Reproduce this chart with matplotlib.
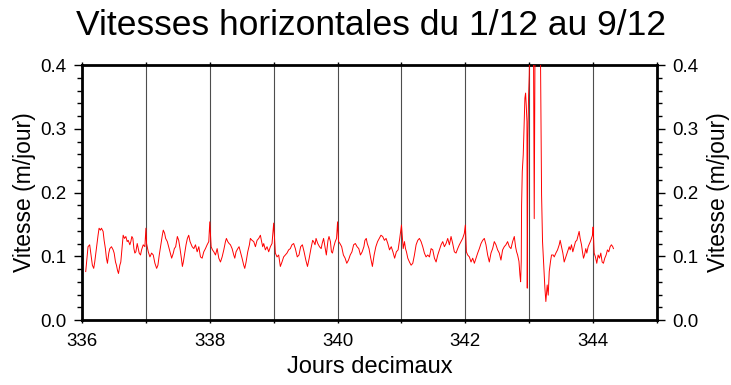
import matplotlib
matplotlib.use("Agg")
import matplotlib.pyplot as plt
from matplotlib.ticker import MultipleLocator, FormatStrFormatter

plt.rcParams["font.family"] = ["Liberation Sans", "DejaVu Sans"]

# ── Séries (jour décimal, vitesse horizontale en m/jour) ─────────────────
jours = [
    336.058, 336.094, 336.120, 336.147, 336.162, 336.183, 336.199, 336.225,
    336.251, 336.267, 336.288, 336.304, 336.330, 336.346, 336.366, 336.382,
    336.398, 336.419, 336.435, 336.461, 336.487, 336.503, 336.524, 336.539,
    336.555, 336.571, 336.592, 336.607, 336.628, 336.644, 336.665, 336.686,
    336.707, 336.723, 336.749, 336.764, 336.780, 336.796, 336.812, 336.827,
    336.843, 336.864, 336.880, 336.895, 336.916, 336.932, 336.958, 336.984,
    337.000, 337.010, 337.037, 337.063, 337.089, 337.115, 337.141, 337.168,
    337.188, 337.209, 337.236, 337.257, 337.272, 337.293, 337.309, 337.335,
    337.356, 337.377, 337.403, 337.429, 337.445, 337.466, 337.492, 337.513,
    337.534, 337.555, 337.571, 337.586, 337.607, 337.628, 337.649, 337.670,
    337.691, 337.724, 337.750, 337.776, 337.802, 337.828, 337.854, 337.880,
    337.906, 337.932, 337.958, 337.984, 338.000, 338.021, 338.042, 338.063,
    338.089, 338.115, 338.141, 338.167, 338.193, 338.219, 338.245, 338.260,
    338.281, 338.302, 338.323, 338.349, 338.375, 338.391, 338.411, 338.438,
    338.458, 338.479, 338.505, 338.531, 338.547, 338.568, 338.594, 338.620,
    338.635, 338.661, 338.688, 338.714, 338.740, 338.766, 338.792, 338.807,
    338.828, 338.844, 338.870, 338.896, 338.922, 338.948, 338.974, 339.000,
    339.026, 339.052, 339.078, 339.104, 339.130, 339.156, 339.182, 339.208,
    339.234, 339.260, 339.286, 339.313, 339.339, 339.369, 339.396, 339.422,
    339.449, 339.476, 339.503, 339.529, 339.556, 339.583, 339.610, 339.626,
    339.647, 339.663, 339.690, 339.717, 339.743, 339.759, 339.781, 339.797,
    339.824, 339.850, 339.866, 339.888, 339.904, 339.920, 339.941, 339.963,
    339.984, 340.000, 340.016, 340.037, 340.064, 340.091, 340.118, 340.144,
    340.171, 340.198, 340.225, 340.251, 340.278, 340.305, 340.332, 340.358,
    340.385, 340.412, 340.428, 340.449, 340.465, 340.492, 340.519, 340.545,
    340.572, 340.599, 340.626, 340.652, 340.679, 340.706, 340.733, 340.759,
    340.786, 340.813, 340.840, 340.866, 340.893, 340.920, 340.947, 340.973,
    341.000, 341.027, 341.047, 341.063, 341.078, 341.099, 341.125, 341.151,
    341.177, 341.203, 341.229, 341.255, 341.281, 341.307, 341.333, 341.359,
    341.385, 341.411, 341.438, 341.464, 341.490, 341.516, 341.542, 341.568,
    341.594, 341.620, 341.646, 341.672, 341.698, 341.724, 341.750, 341.776,
    341.802, 341.828, 341.854, 341.880, 341.906, 341.932, 341.958, 341.984,
    342.000, 342.016, 342.036, 342.063, 342.089, 342.115, 342.141, 342.167,
    342.193, 342.219, 342.245, 342.271, 342.297, 342.323, 342.349, 342.375,
    342.401, 342.427, 342.453, 342.479, 342.505, 342.531, 342.557, 342.583,
    342.609, 342.635, 342.661, 342.688, 342.714, 342.740, 342.766, 342.786,
    342.802, 342.818, 342.839, 342.854, 342.865, 342.875, 342.880, 342.891,
    342.906, 342.922, 342.932, 342.943, 342.953, 342.964, 342.969, 342.979,
    342.990, 343.000, 343.010, 343.040, 343.068, 343.078, 343.089, 343.130,
    343.177, 343.193, 343.208, 343.229, 343.245, 343.260, 343.281, 343.297,
    343.313, 343.333, 343.349, 343.375, 343.391, 343.417, 343.443, 343.469,
    343.484, 343.505, 343.526, 343.547, 343.573, 343.599, 343.625, 343.641,
    343.661, 343.682, 343.703, 343.724, 343.745, 343.766, 343.781, 343.797,
    343.818, 343.833, 343.849, 343.865, 343.885, 343.901, 343.922, 343.943,
    343.964, 343.990, 344.000, 344.016, 344.036, 344.057, 344.078, 344.099,
    344.120, 344.141, 344.161, 344.182, 344.203, 344.224, 344.245, 344.266,
    344.286, 344.307, 344.318,
]

vitesse = [
    0.076, 0.115, 0.118, 0.097, 0.086, 0.081, 0.091, 0.112,
    0.133, 0.144, 0.141, 0.144, 0.139, 0.125, 0.112, 0.097,
    0.089, 0.105, 0.112, 0.115, 0.110, 0.105, 0.091, 0.086,
    0.078, 0.073, 0.086, 0.091, 0.115, 0.133, 0.128, 0.131,
    0.123, 0.125, 0.118, 0.123, 0.131, 0.128, 0.112, 0.105,
    0.107, 0.120, 0.112, 0.105, 0.102, 0.110, 0.118, 0.115,
    0.144, 0.120, 0.107, 0.099, 0.105, 0.102, 0.089, 0.081,
    0.086, 0.102, 0.120, 0.133, 0.141, 0.136, 0.128, 0.123,
    0.115, 0.107, 0.097, 0.105, 0.112, 0.115, 0.131, 0.125,
    0.112, 0.097, 0.084, 0.091, 0.105, 0.118, 0.128, 0.133,
    0.123, 0.115, 0.112, 0.118, 0.107, 0.115, 0.099, 0.097,
    0.107, 0.112, 0.118, 0.123, 0.154, 0.115, 0.110, 0.107,
    0.102, 0.112, 0.097, 0.091, 0.099, 0.110, 0.123, 0.128,
    0.123, 0.120, 0.118, 0.112, 0.102, 0.097, 0.107, 0.112,
    0.115, 0.107, 0.097, 0.086, 0.081, 0.091, 0.107, 0.118,
    0.128, 0.125, 0.123, 0.115, 0.125, 0.128, 0.133, 0.125,
    0.115, 0.120, 0.110, 0.115, 0.107, 0.115, 0.120, 0.152,
    0.105, 0.099, 0.102, 0.084, 0.091, 0.099, 0.102, 0.105,
    0.110, 0.112, 0.118, 0.120, 0.112, 0.099, 0.102, 0.115,
    0.118, 0.107, 0.094, 0.084, 0.097, 0.112, 0.125, 0.123,
    0.118, 0.128, 0.120, 0.115, 0.112, 0.120, 0.128, 0.118,
    0.102, 0.125, 0.131, 0.123, 0.107, 0.105, 0.115, 0.123,
    0.128, 0.154, 0.123, 0.120, 0.115, 0.102, 0.097, 0.089,
    0.094, 0.102, 0.107, 0.118, 0.120, 0.115, 0.112, 0.102,
    0.107, 0.115, 0.125, 0.128, 0.120, 0.112, 0.097, 0.084,
    0.102, 0.115, 0.123, 0.128, 0.133, 0.131, 0.125, 0.128,
    0.120, 0.110, 0.115, 0.107, 0.097, 0.107, 0.110, 0.128,
    0.149, 0.112, 0.123, 0.112, 0.107, 0.097, 0.091, 0.086,
    0.089, 0.102, 0.118, 0.125, 0.128, 0.123, 0.115, 0.105,
    0.099, 0.102, 0.099, 0.112, 0.110, 0.097, 0.091, 0.102,
    0.110, 0.118, 0.123, 0.115, 0.120, 0.128, 0.118, 0.131,
    0.120, 0.107, 0.105, 0.112, 0.118, 0.123, 0.128, 0.136,
    0.149, 0.107, 0.102, 0.099, 0.091, 0.097, 0.089, 0.097,
    0.105, 0.112, 0.120, 0.125, 0.128, 0.118, 0.102, 0.091,
    0.105, 0.112, 0.123, 0.118, 0.110, 0.105, 0.094, 0.110,
    0.115, 0.118, 0.123, 0.115, 0.112, 0.123, 0.131, 0.115,
    0.107, 0.102, 0.092, 0.071, 0.060, 0.092, 0.180, 0.233,
    0.259, 0.311, 0.348, 0.356, 0.337, 0.311, 0.050, 0.285,
    0.353, 0.384, 0.450, 0.600, 0.400, 0.159, 0.400, 0.600,
    0.400, 0.196, 0.123, 0.081, 0.050, 0.029, 0.055, 0.039,
    0.076, 0.092, 0.102, 0.102, 0.099, 0.105, 0.110, 0.118,
    0.125, 0.115, 0.105, 0.091, 0.099, 0.107, 0.115, 0.110,
    0.118, 0.107, 0.115, 0.123, 0.125, 0.133, 0.139, 0.128,
    0.118, 0.107, 0.097, 0.102, 0.112, 0.105, 0.115, 0.120,
    0.125, 0.133, 0.146, 0.105, 0.099, 0.089, 0.102, 0.097,
    0.105, 0.091, 0.089, 0.097, 0.102, 0.110, 0.107, 0.115,
    0.118, 0.115, 0.112,
]

titre = "Vitesses horizontales du 1/12 au 9/12"
label_x = "Jours decimaux"
label_y = "Vitesse (m/jour)"

fig = plt.figure(figsize=(7.31, 3.85), dpi=100)
ax = fig.add_axes([0.1122, 0.1688, 0.7866, 0.6623])

ax.plot(jours, vitesse, color="red", lw=0.7, zorder=3)

ax.set_xlim(336, 345)
ax.set_ylim(0, 0.4)

# ── Axes façon GMT : cadre épais, ticks extérieurs sur les 4 côtés ───────
ax.xaxis.set_major_locator(MultipleLocator(2))
ax.xaxis.set_minor_locator(MultipleLocator(1))
ax.yaxis.set_major_locator(MultipleLocator(0.1))
ax.yaxis.set_minor_locator(MultipleLocator(0.02))
ax.yaxis.set_major_formatter(FormatStrFormatter("%.1f"))

ax.grid(True, which="both", axis="x", color="0.3", lw=0.8)

for sp in ax.spines.values():
    sp.set_linewidth(2.0)

ax.tick_params(which="both", direction="out", top=True, right=True,
               labelright=True, labelsize=13.5, width=1.0)
ax.tick_params(axis="y", which="major", length=6, pad=5)
ax.tick_params(axis="y", which="minor", length=3.5)
ax.tick_params(axis="x", which="both", length=2.5, pad=7)

ax.set_xlabel(label_x, fontsize=17, labelpad=4)
ax.set_ylabel(label_y, fontsize=16.5, labelpad=3)

ax_r = ax.secondary_yaxis("right")
ax_r.set_ticks([])
ax_r.spines["right"].set_visible(False)
ax_r.set_ylabel(label_y, fontsize=16.5, labelpad=36)

fig.text(0.507, 0.935, titre, fontsize=25.5, ha="center", va="center")

fig.savefig("out.png", dpi=100)
